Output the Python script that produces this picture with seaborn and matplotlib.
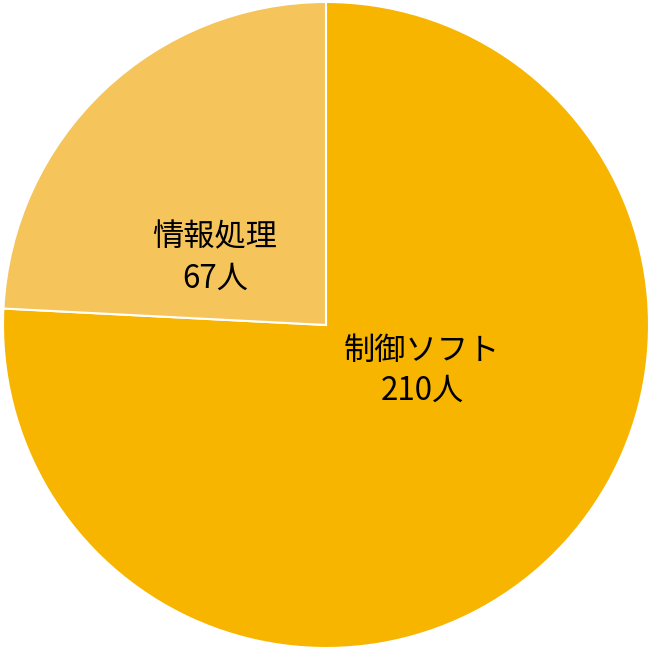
import matplotlib
matplotlib.use("Agg")
import matplotlib.pyplot as plt
import seaborn as sns

categories = ["制御ソフト", "情報処理"]
values = [210, 67]
colors = ["#F7B500", "#F5C45A"]
label_pos = [(0.297, -0.142), (-0.344, 0.207)]

sns.set_style("white")
plt.rcParams['font.family'] = ['Noto Sans CJK JP', 'DejaVu Sans']

fig = plt.figure(figsize=(6.52, 6.51), dpi=100)
ax = fig.add_axes([0, 0, 1, 1])
ax.pie(values, colors=colors, startangle=90, counterclock=False, radius=1.0,
       wedgeprops=dict(edgecolor="white", linewidth=1.5))
for cat, val, (x, y) in zip(categories, values, label_pos):
    ax.text(x, y, f"{cat}\n{val}人", ha="center", va="center", fontsize=22.5,
            linespacing=1.35, color="black")
R = 323.0
ax.set_xlim(-326 / R, 326 / R)
ax.set_ylim(-326 / R, 325 / R)
ax.set_aspect("equal")
ax.axis("off")
fig.savefig("out.png", dpi=100, facecolor="white")
